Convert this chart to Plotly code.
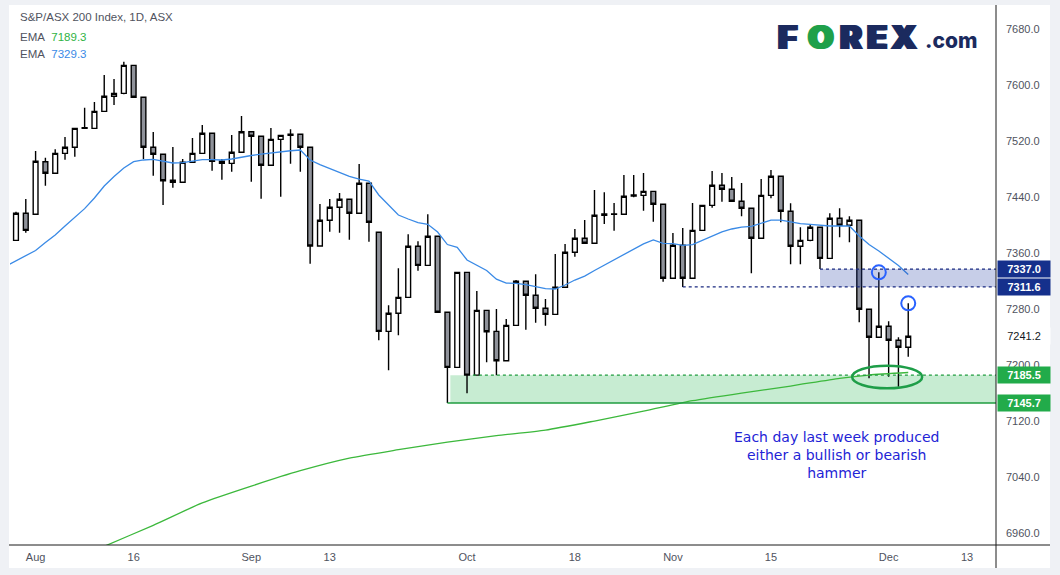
import pandas as pd
import plotly.graph_objects as go

# ---------------- data ----------------
start_date = "2021-07-29"
tick_dates = ["2021-08-02", "2021-08-16", "2021-09-01", "2021-09-13", "2021-10-01",
              "2021-10-18", "2021-11-01", "2021-11-15", "2021-12-01", "2021-12-13"]
tick_labels = ["Aug", "16", "Sep", "13", "Oct", "18", "Nov", "15", "Dec", "13"]

opens = [7378.1, 7416.7, 7415.3, 7490.4, 7473.9, 7502.4, 7511.0, 7538.1, 7538.1, 7562.4,
         7583.9, 7588.1, 7628.1, 7582.4, 7511.0, 7501.0, 7463.9, 7461.0, 7489.6, 7502.4,
         7531.0, 7491.0, 7488.1, 7503.9, 7533.3, 7526.7, 7485.3, 7522.4, 7529.6, 7529.6,
         7511.0, 7370.0, 7406.7, 7425.3, 7436.7, 7416.7, 7459.6, 7389.6, 7248.1, 7273.9,
         7296.7, 7369.6, 7342.4, 7383.9, 7275.3, 7196.7, 7332.4, 7185.5, 7278.1, 7248.1,
         7206.1, 7256.7, 7319.6, 7299.6, 7281.0, 7272.4, 7311.0, 7361.0, 7381.0, 7373.9,
         7415.7, 7415.3, 7415.3, 7442.9, 7442.4, 7448.1, 7429.6, 7323.9, 7371.0, 7323.9,
         7392.4, 7428.1, 7456.7, 7451.0, 7433.9, 7423.9, 7381.0, 7442.4, 7469.6, 7419.6,
         7369.6, 7378.1, 7396.7, 7352.4, 7409.6, 7399.6, 7406.7, 7279.6, 7239.6, 7255.3,
         7235.3, 7225.3]
highs = [7419.0, 7437.1, 7505.7, 7496.1, 7508.1, 7525.7, 7538.1, 7567.6, 7575.7, 7614.3,
         7608.6, 7633.3, 7628.1, 7582.4, 7532.9, 7501.0, 7511.4, 7494.3, 7524.3, 7542.9,
         7531.0, 7494.3, 7528.6, 7555.7, 7533.3, 7526.7, 7538.6, 7528.1, 7536.7, 7529.6,
         7511.0, 7430.0, 7437.1, 7445.7, 7436.7, 7487.1, 7459.6, 7389.6, 7285.3, 7338.1,
         7386.7, 7376.7, 7415.3, 7383.9, 7275.3, 7332.4, 7332.4, 7305.7, 7278.1, 7280.0,
         7265.7, 7321.4, 7319.6, 7329.6, 7294.3, 7358.6, 7372.9, 7394.3, 7407.1, 7450.0,
         7446.7, 7431.4, 7471.4, 7471.4, 7474.3, 7448.1, 7429.6, 7388.6, 7395.7, 7431.4,
         7428.1, 7477.1, 7474.3, 7468.6, 7460.0, 7423.9, 7465.7, 7478.6, 7469.6, 7431.0,
         7396.7, 7401.0, 7396.7, 7416.7, 7423.9, 7412.4, 7406.7, 7279.6, 7332.4, 7262.4,
         7239.6, 7288.1]
lows = [7378.1, 7389.0, 7415.3, 7456.1, 7473.9, 7493.3, 7497.6, 7537.1, 7538.1, 7562.4,
        7571.4, 7586.7, 7582.4, 7494.3, 7470.4, 7428.6, 7453.3, 7461.0, 7489.6, 7502.4,
        7477.6, 7464.7, 7476.1, 7503.9, 7461.9, 7437.6, 7485.3, 7440.4, 7487.6, 7476.1,
        7344.7, 7370.0, 7390.4, 7389.0, 7379.0, 7416.7, 7376.1, 7235.3, 7192.4, 7242.4,
        7296.7, 7334.7, 7342.4, 7275.3, 7145.7, 7196.7, 7159.6, 7185.5, 7203.9, 7185.3,
        7206.1, 7256.7, 7250.4, 7260.4, 7256.1, 7272.4, 7311.0, 7354.7, 7373.9, 7373.9,
        7401.4, 7391.9, 7415.3, 7439.6, 7420.4, 7404.7, 7319.0, 7323.9, 7311.6, 7323.9,
        7392.4, 7424.7, 7433.3, 7433.9, 7412.4, 7331.0, 7381.0, 7438.1, 7403.9, 7343.9,
        7343.9, 7376.7, 7337.0, 7352.4, 7382.4, 7375.3, 7261.0, 7181.0, 7239.6, 7183.3,
        7169.0, 7211.9]
closes = [7416.7, 7392.4, 7491.0, 7473.9, 7502.4, 7511.0, 7538.1, 7539.0, 7562.4, 7583.9,
          7588.1, 7628.1, 7582.4, 7511.0, 7501.0, 7463.3, 7461.0, 7489.6, 7502.4, 7531.0,
          7491.0, 7488.1, 7503.9, 7533.3, 7526.7, 7485.3, 7522.4, 7528.1, 7528.1, 7511.0,
          7370.0, 7406.7, 7425.3, 7436.7, 7416.7, 7459.6, 7403.9, 7248.1, 7273.9, 7296.7,
          7369.6, 7342.4, 7383.9, 7275.3, 7196.7, 7332.4, 7185.5, 7278.1, 7247.6, 7206.1,
          7256.7, 7319.6, 7299.6, 7281.0, 7272.4, 7311.0, 7361.0, 7381.0, 7373.9, 7413.9,
          7413.9, 7415.7, 7441.0, 7441.4, 7448.1, 7429.6, 7323.9, 7371.0, 7323.9, 7392.4,
          7428.1, 7456.7, 7451.0, 7433.9, 7423.9, 7381.0, 7442.4, 7469.6, 7419.6, 7369.6,
          7378.1, 7396.7, 7352.4, 7409.6, 7399.6, 7406.7, 7279.6, 7239.6, 7255.3, 7235.3,
          7225.3, 7241.2]

# short EMA (blue), one value per session starting the day before the first candle
ema_fast_start = "2021-07-28"
ema_fast = [7341.5, 7348.6, 7355.7, 7363.6, 7374.9, 7385.7, 7398.6, 7411.4, 7423.4, 7438.6, 7455.7,
            7469.3, 7481.4, 7490.4, 7492.9, 7493.7, 7491.1, 7488.6, 7489.1, 7491.1, 7493.3,
            7493.4, 7492.9, 7494.3, 7497.1, 7499.3, 7501.4, 7503.3, 7505.0, 7506.1, 7507.1,
            7492.9, 7486.4, 7480.7, 7475.0, 7469.6, 7465.7, 7462.6, 7442.9, 7428.6, 7414.3,
            7408.6, 7403.4, 7401.1, 7390.0, 7372.1, 7368.1, 7350.0, 7342.9, 7335.0, 7322.6,
            7317.1, 7316.7, 7315.0, 7312.1, 7309.0, 7308.6, 7314.3, 7321.4, 7326.9, 7335.0,
            7342.6, 7350.3, 7357.9, 7366.1, 7373.1, 7378.6, 7373.9, 7373.3, 7371.0, 7372.1,
            7377.9, 7384.6, 7390.3, 7394.3, 7397.1, 7397.9, 7402.9, 7407.1, 7407.1, 7404.3,
            7402.1, 7401.0, 7399.6, 7398.6, 7398.9, 7398.6, 7384.3, 7372.1, 7362.9, 7352.0,
            7342.1, 7329.3]

# long EMA (green), read at selected sessions
ema_slow_dates = ["2021-08-05", "2021-08-11", "2021-08-18", "2021-08-25", "2021-09-01",
                  "2021-09-08", "2021-09-15", "2021-09-22", "2021-09-29", "2021-10-06",
                  "2021-10-13", "2021-10-20", "2021-10-27", "2021-11-03", "2021-11-10",
                  "2021-11-17", "2021-11-24", "2021-11-29", "2021-12-03"]
ema_slow = [6915.0, 6941.0, 6971.0, 7003.0, 7027.0, 7049.0, 7067.0, 7079.0, 7090.0, 7099.0,
            7107.0, 7120.0, 7134.0, 7149.0, 7160.0, 7170.0, 7181.0, 7185.7, 7189.3]

y_ticks = [6960, 7040, 7120, 7200, 7280, 7360, 7440, 7520, 7600, 7680]
blue_zone = (7311.6, 7337.0)
green_zone = (7145.7, 7185.5)
last_price = 7241.2
ema_slow_last = 7189.3
ema_fast_last = 7329.3

# ---------------- helpers ----------------
sessions = pd.bdate_range("2021-07-26", "2022-01-31")
pos = {d.strftime("%Y-%m-%d"): i - list(sessions).index(pd.Timestamp(start_date))
       for i, d in enumerate(sessions)}
n = len(closes)
x = list(range(n))
x_fast = [pos[ema_fast_start] + i for i in range(len(ema_fast))]
x_slow = [pos[d] for d in ema_slow_dates]
tick_pos = [pos[d] for d in tick_dates]

W, H = 1060, 575
PL, PR, PT, PB = 10, 996, 8, 545
def px(v):
    return (v - PL) / (PR - PL)
def py(v):
    return (PB - v) / (PB - PT)

X_MIN, X_MAX = -0.61, 99.95
Y_MIN, Y_MAX = 6942.9, 7710.0
dx_px = (PR - PL) / (X_MAX - X_MIN)
dy_px = (PB - PT) / (Y_MAX - Y_MIN)

FONT = "Liberation Sans"
TXT = "#50535e"
NAVY = "#15308c"
GREEN = "#22ab4a"
LOGO_NAVY = "#1b2a5e"
LOGO_GREEN = "#1fa04a"

fig = go.Figure()

fig.add_trace(go.Scatter(x=x_slow, y=ema_slow, mode="lines", line=dict(color="#3cb83c", width=1.3, shape="spline", smoothing=0.6),
                         hoverinfo="skip", showlegend=False))
fig.add_trace(go.Scatter(x=x_fast, y=ema_fast, mode="lines", line=dict(color="#3a8ae6", width=1.3),
                         hoverinfo="skip", showlegend=False))
fig.add_trace(go.Candlestick(
    x=x, open=opens, high=highs, low=lows, close=closes,
    increasing=dict(fillcolor="#ffffff", line=dict(color="#000000", width=1.4)),
    decreasing=dict(fillcolor="#8f929a", line=dict(color="#000000", width=1.4)),
    whiskerwidth=0, showlegend=False))

shapes = []
# white chart panel on a light grey page
shapes.append(dict(type="rect", xref="paper", yref="paper", x0=px(9), x1=px(1050), y0=py(568), y1=py(5),
                   fillcolor="#ffffff", line=dict(width=0), layer="below"))
# zones
i_blue = lows.index(blue_zone[1])
i_blue_low = lows.index(blue_zone[0])
shapes.append(dict(type="rect", xref="x", yref="y", x0=i_blue, x1=X_MAX, y0=blue_zone[0], y1=blue_zone[1],
                   fillcolor="rgba(40,67,167,0.26)", line=dict(width=0), layer="above"))
shapes.append(dict(type="line", xref="x", yref="y", x0=i_blue, x1=X_MAX, y0=blue_zone[1], y1=blue_zone[1],
                   line=dict(color="#1a2a80", width=1.2, dash="dot")))
shapes.append(dict(type="line", xref="x", yref="y", x0=i_blue_low, x1=X_MAX, y0=blue_zone[0], y1=blue_zone[0],
                   line=dict(color="#1a2a80", width=1.2, dash="dot")))
i_green = lows.index(green_zone[0])
i_green_top = closes.index(green_zone[1])
shapes.append(dict(type="rect", xref="x", yref="y", x0=i_green + 0.3, x1=X_MAX, y0=green_zone[0], y1=green_zone[1],
                   fillcolor="rgba(40,180,80,0.26)", line=dict(width=0), layer="below"))
shapes.append(dict(type="line", xref="x", yref="y", x0=i_green_top + 0.6, x1=X_MAX, y0=green_zone[1], y1=green_zone[1],
                   line=dict(color="#1f9c3f", width=1.2, dash="dot")))
shapes.append(dict(type="line", xref="x", yref="y", x0=i_green, x1=X_MAX, y0=green_zone[0], y1=green_zone[0],
                   line=dict(color="#1f9c3f", width=1.4)))
# circles on the upper wicks
for i in (88, 91):
    rx, ry = 7 / dx_px, 7 / dy_px
    shapes.append(dict(type="circle", xref="x", yref="y", x0=i - rx, x1=i + rx, y0=highs[i] - ry, y1=highs[i] + ry,
                       line=dict(color="#2962ff", width=2), layer="above"))
# ellipse round the lows
ex, ey, erx, ery = 88.85, 7182.9, 35 / dx_px, 11.3 / dy_px
shapes.append(dict(type="circle", xref="x", yref="y", x0=ex - erx, x1=ex + erx, y0=ey - ery, y1=ey + ery,
                   line=dict(color="#1e9e48", width=2.5), layer="above"))
# axis frame lines
shapes.append(dict(type="line", xref="paper", yref="paper", x0=px(9), x1=px(1050), y0=0, y1=0,
                   line=dict(color="#1b1b1b", width=1)))
shapes.append(dict(type="line", xref="paper", yref="paper", x0=1, x1=1, y0=py(568), y1=py(5),
                   line=dict(color="#1b1b1b", width=1)))

ann = []
# header legend
ann.append(dict(xref="paper", yref="paper", x=px(18), y=py(17), xanchor="left", yanchor="middle", showarrow=False,
                text="S&amp;P/ASX 200 Index, 1D, ASX", font=dict(family=FONT, size=11.5, color=TXT)))
ann.append(dict(xref="paper", yref="paper", x=px(18), y=py(37), xanchor="left", yanchor="middle", showarrow=False,
                text="EMA\u00a0\u00a0<span style='color:#2fb344'>%.1f</span>" % ema_slow_last,
                font=dict(family=FONT, size=11.5, color=TXT)))
ann.append(dict(xref="paper", yref="paper", x=px(18), y=py(54), xanchor="left", yanchor="middle", showarrow=False,
                text="EMA\u00a0\u00a0<span style='color:#3a8ae6'>%.1f</span>" % ema_fast_last,
                font=dict(family=FONT, size=11.5, color=TXT)))
# logo
logo = [("F", 787, LOGO_NAVY), ("O", 821, LOGO_GREEN), ("R", 851, LOGO_NAVY), ("E", 877, LOGO_NAVY), ("X", 904, LOGO_NAVY)]
for ch, cx, col in logo:
    ann.append(dict(xref="paper", yref="paper", x=px(cx), y=py(37), xanchor="center", yanchor="middle", showarrow=False,
                    text=ch, font=dict(family="Inter", size=33, weight=900, color=col,
                                       shadow="1.5px 0 0 %s, -1.5px 0 0 %s" % (col, col))))
ann.append(dict(xref="paper", yref="paper", x=px(951), y=py(40), xanchor="center", yanchor="middle", showarrow=False,
                text=".com", font=dict(family="Inter", size=21, weight=800, color=LOGO_NAVY)))
# comment
ann.append(dict(xref="paper", yref="paper", x=px(836), y=py(455), xanchor="center", yanchor="middle", showarrow=False,
                text="Each day last week produced<br>either a bullish or bearish<br>hammer", align="center",
                font=dict(family="DejaVu Sans", size=14, color="#2323d6")))
# price labels on the right scale
for val, bg, fg in [(blue_zone[1], NAVY, "#ffffff"), (blue_zone[0], NAVY, "#ffffff"),
                    (last_price, "#ffffff", "#131722"),
                    (green_zone[1], GREEN, "#ffffff"), (green_zone[0], GREEN, "#ffffff")]:
    ann.append(dict(xref="paper", yref="y", x=1, y=val, xanchor="left", yanchor="middle", xshift=0.5, showarrow=False,
                    text="<b>%.1f</b>" % val if fg == "#ffffff" else "%.1f" % val,
                    width=50, height=14, align="center", bgcolor=bg, borderpad=1,
                    font=dict(family=FONT, size=11, color=fg)))

fig.update_layout(
    width=W, height=H,
    margin=dict(l=PL, r=W - PR, t=PT, b=H - PB),
    paper_bgcolor="#eff1f5", plot_bgcolor="#ffffff",
    shapes=shapes, annotations=ann, showlegend=False,
    xaxis=dict(range=[X_MIN, X_MAX], tickmode="array", tickvals=tick_pos, ticktext=tick_labels,
               showgrid=False, zeroline=False, showline=False, ticks="", rangeslider=dict(visible=False),
               ticklabelstandoff=4,
               tickfont=dict(family=FONT, size=11, color=TXT), fixedrange=True),
    yaxis=dict(range=[Y_MIN, Y_MAX], side="right", tickmode="array", tickvals=y_ticks,
               ticktext=["%.1f" % v for v in y_ticks], showgrid=False, zeroline=False, showline=False,
               ticks="", ticklabelstandoff=9, tickfont=dict(family=FONT, size=11, color=TXT), fixedrange=True),
)

fig.write_html("out.html")
